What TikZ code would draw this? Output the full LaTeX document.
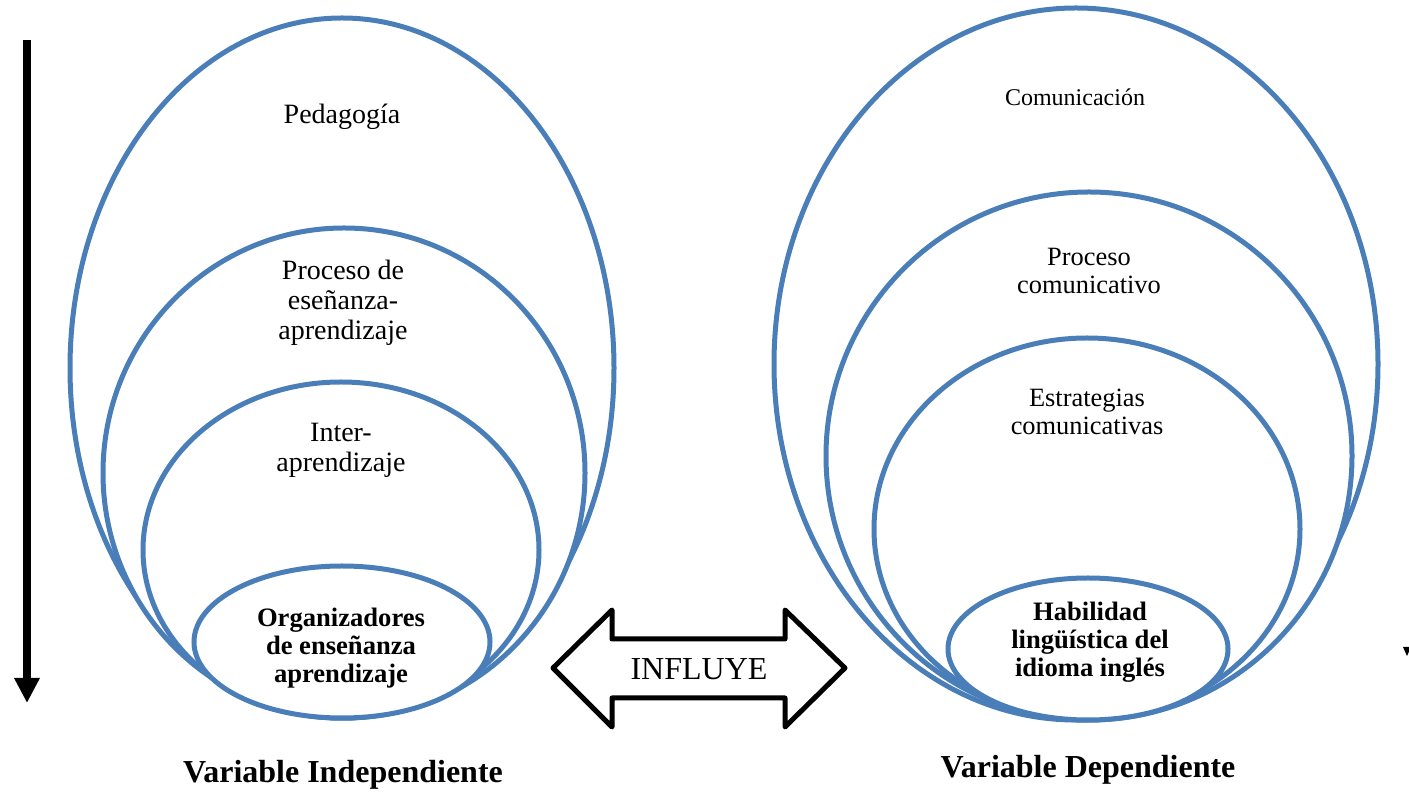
\documentclass[tikz,border=0pt]{standalone}
\usepackage{fontspec}
\setmainfont{Liberation Serif}
\usetikzlibrary{arrows.meta}
\definecolor{ringblue}{RGB}{74,126,184}
\begin{document}
\begin{tikzpicture}[x=0.5pt,y=-0.5pt,
	ring/.style={draw=ringblue,line width=2.5pt,fill=white},
	lbl/.style={align=center,font=\fontsize{14}{15}\selectfont},
	smalllbl/.style={align=center,font=\fontsize{13.2}{14}\selectfont},
	keylbl/.style={align=center,font=\fontsize{13.3}{14}\selectfont\bfseries},
	varlbl/.style={font=\fontsize{16}{18}\selectfont\bfseries}]
	\useasboundingbox (0,0) rectangle (1409,795);
	% left side: variable independiente
	\draw[ring] (342,368) ellipse [x radius=272,y radius=350];
	\draw[ring] (344,473) ellipse [x radius=241,y radius=245];
	\draw[ring] (341,550) ellipse [x radius=198,y radius=168];
	\draw[ring] (342,642) ellipse [x radius=148,y radius=76];
	\node[lbl] (pedagogia) at (342,117) {Pedagogía};
	\node[lbl] (proceso) at (343,303) {Proceso de\\eseñanza-\\aprendizaje};
	\node[lbl] (inter) at (341,450) {Inter-\\aprendizaje};
	\node[keylbl] (organiz) at (341,648) {Organizadores\\de enseñanza\\aprendizaje};
	% right side: variable dependiente
	\draw[ring] (1076,364) ellipse [x radius=302,y radius=356];
	\draw[ring] (1089,456) ellipse [x radius=263,y radius=264];
	\draw[ring] (1087,529) ellipse [x radius=213,y radius=191];
	\draw[ring] (1088,649) ellipse [x radius=140,y radius=71];
	\node[font=\fontsize{12}{13}\selectfont] (comunic) at (1075,97) {Comunicación};
	\node[smalllbl] (procom) at (1089,271) {Proceso\\comunicativo};
	\node[smalllbl] (estrat) at (1087,412) {Estrategias\\comunicativas};
	\node[keylbl] (habil) at (1090,642) {Habilidad\\lingüística del\\idioma inglés};
	% double arrow
	\draw[line width=2.5pt,line join=round] (553,668) -- (612,610) -- (612,639) -- (785,639)
		-- (785,610) -- (845,668) -- (785,727) -- (785,698) -- (612,698) -- (612,727) -- cycle;
	\node[font=\fontsize{16}{18}\selectfont] (influye) at (699,669) {INFLUYE};
	% vertical arrow
	\coordinate (top) at (27,40);
	\coordinate (bot) at (27,703);
	\draw[line width=4pt,-{Triangle[width=12pt,length=12.5pt]}] (top) -- (bot);
	\fill (1403,647) -- (1411,647) -- (1407,656) -- cycle;
	\node[varlbl] (vi) at (343,775) {Variable Independiente};
	\node[varlbl] (vd) at (1088,770) {Variable Dependiente};
\end{tikzpicture}
\end{document}
